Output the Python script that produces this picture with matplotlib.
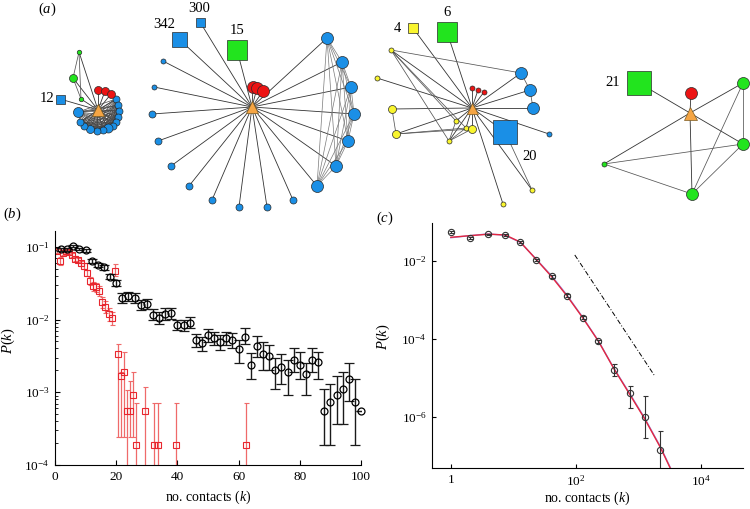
import numpy as np
import matplotlib.pyplot as plt
from itertools import combinations

plt.rcParams.update({
    'font.family': 'Liberation Serif',
    'mathtext.fontset': 'custom',
    'mathtext.rm': 'Liberation Serif',
    'mathtext.it': 'Liberation Serif:italic',
    'font.size': 9,
    'axes.linewidth': 0.8,
})

# ---------------- panel (b): degree distributions, linear k ----------------
k_black = np.arange(2, 101, 2)
p_black = [0.092, 0.092, 0.102, 0.093, 0.090, 0.064, 0.056, 0.052, 0.039, 0.032,
           0.0195, 0.021, 0.0197, 0.0158, 0.0165, 0.0117, 0.0105, 0.012, 0.0122, 0.0085,
           0.0083, 0.0091, 0.0052, 0.0047, 0.0061, 0.0055, 0.0049, 0.0055, 0.0052, 0.0039,
           0.0058, 0.0024, 0.0043, 0.0034, 0.0032, 0.0020, 0.0022, 0.0019, 0.0028, 0.0024,
           0.0018, 0.0028, 0.0026, 0.00055, 0.00074, 0.00091, 0.0011, 0.0015, 0.00074, 0.00055]
lo_black = [0.088, 0.088, 0.098, 0.089, 0.086, 0.060, 0.052, 0.048, 0.036, 0.029,
            0.017, 0.018, 0.017, 0.0135, 0.014, 0.0098, 0.0087, 0.0100, 0.0102, 0.0071,
            0.0069, 0.0076, 0.0042, 0.0037, 0.0049, 0.0044, 0.0038, 0.0044, 0.0041, 0.0025,
            0.0046, 0.0015, 0.0031, 0.0020, 0.0020, 0.0011, 0.0013, 0.00093, 0.0019, 0.0015,
            0.00093, 0.0019, 0.0015, 0.00019, 0.00019, 0.00037, 0.00037, 0.00076, 0.00019, 0.00055]
hi_black = [0.096, 0.096, 0.106, 0.097, 0.094, 0.068, 0.060, 0.056, 0.042, 0.035,
            0.023, 0.024, 0.023, 0.0185, 0.019, 0.0140, 0.0125, 0.0142, 0.0145, 0.0100,
            0.0098, 0.0107, 0.0063, 0.0058, 0.0075, 0.0068, 0.0062, 0.0068, 0.0065, 0.0052,
            0.0076, 0.0035, 0.0059, 0.0049, 0.0045, 0.0030, 0.0034, 0.0028, 0.0040, 0.0036,
            0.0025, 0.0040, 0.0036, 0.0011, 0.0013, 0.0017, 0.0019, 0.0025, 0.0015, 0.00055]

k_red = [0.5, 1.5, 2.5, 3.5, 4.5, 5.5, 6.5, 7.5, 8.5, 9.5, 10.5, 11.5, 12.5, 13.5, 14.5,
         15.5, 16.5, 17.5, 18.5, 19.5, 20.5, 21.5, 22.5, 23.5, 24.5, 25.5, 26.5, 29.5,
         32.5, 33.5, 39.5, 62.5]
p_red = [0.088, 0.064, 0.081, 0.088, 0.085, 0.077, 0.069, 0.066, 0.059, 0.055, 0.044, 0.034,
         0.029, 0.028, 0.025, 0.0174, 0.015, 0.012, 0.0105, 0.047, 0.0034, 0.0017, 0.0019,
         0.00056, 0.00056, 0.00093, 0.000186, 0.00056, 0.000186, 0.000186, 0.000186, 0.000186]
lo_red = [0.083, 0.056, 0.076, 0.083, 0.080, 0.072, 0.064, 0.061, 0.054, 0.050, 0.040, 0.030,
          0.025, 0.024, 0.021, 0.0145, 0.0122, 0.0096, 0.0083, 0.040, 0.00024, 0.00024, 0.00024,
          1e-6, 0.00024, 0.00024, 1e-6, 1e-6, 1e-6, 1e-6, 1e-6, 1e-6]
hi_red = [0.093, 0.072, 0.086, 0.093, 0.090, 0.082, 0.074, 0.071, 0.064, 0.060, 0.048, 0.038,
          0.033, 0.032, 0.029, 0.0203, 0.0178, 0.0144, 0.0127, 0.058, 0.0046, 0.0019, 0.0036,
          0.00107, 0.00145, 0.0019, 0.00072, 0.0012, 0.00072, 0.00072, 0.00072, 0.00072]

# ---------------- panel (c): log-binned distribution + fit ----------------
k_log = [1, 2, 3.9, 7.4, 13, 23, 41, 72, 128, 229, 407, 724, 1259, 2239]
p_log = [0.056, 0.038, 0.048, 0.046, 0.030, 0.0107, 0.0040, 0.00129, 0.00035,
         8.7e-5, 1.6e-5, 4.0e-6, 1.0e-6, 1.45e-7]
lo_log = [0.053, 0.036, 0.046, 0.044, 0.028, 0.0101, 0.0037, 0.00120, 0.00032,
          7.8e-5, 1.1e-5, 1.7e-6, 2.9e-7, 1e-9]
hi_log = [0.059, 0.040, 0.050, 0.048, 0.032, 0.0113, 0.0043, 0.00138, 0.00038,
          9.6e-5, 2.3e-5, 6.2e-6, 3.5e-6, 4.4e-7]

fit_k = [1, 2, 4, 7.4, 13, 23, 41, 72, 128, 229, 407, 724, 1259, 2239, 3300]
fit_red = [0.040, 0.044, 0.048, 0.046, 0.030, 0.011, 0.0039, 0.00126, 0.00035,
           8.7e-5, 1.7e-5, 3.8e-6, 8.9e-7, 1.66e-7, 4.5e-8]
fit_blue = [0.039, 0.044, 0.049, 0.045, 0.0295, 0.0112, 0.0041, 0.00132, 0.00036,
            8.9e-5, 1.74e-5, 4.0e-6, 9.3e-7, 1.74e-7, 4.7e-8]
guide_k = [96, 1820]
guide_p = [0.0141, 1.12e-5]

# ---------------- panel (a): four ego networks (layout in pixels) ----------------
# node: (x, y, diameter, colour, marker)
net1 = [(98, 110, 12, 'o', '^'),
        (116, 99, 7, 'b', 'o'), (118, 105, 7, 'b', 'o'), (119, 111, 7, 'b', 'o'),
        (118, 117, 7, 'b', 'o'), (116, 122, 7, 'b', 'o'), (113, 126, 7, 'b', 'o'),
        (108, 128, 9, 'b', 'o'), (103, 130, 7, 'b', 'o'), (97, 131, 7, 'b', 'o'),
        (90, 129, 8, 'b', 'o'), (84, 126, 7, 'b', 'o'), (80, 122, 7, 'b', 'o'),
        (78, 112, 10, 'b', 'o'),
        (98, 90, 8, 'r', 'o'), (105, 91, 8, 'r', 'o'), (111, 94, 8, 'r', 'o'),
        (79, 52, 4.5, 'g', 'o'), (73, 78, 8, 'g', 'o'), (81, 99, 4.5, 'g', 'o'),
        (60, 99, 9, 'b', 's')]
net1_extra = [(17, 18), (17, 19), (18, 19)]
net1_clique = list(range(1, 14))

net2 = [(252, 107, 12, 'o', '^'),
        (163, 61, 5, 'b', 'o'), (154, 87, 5, 'b', 'o'), (152, 114, 7, 'b', 'o'),
        (158, 141, 7, 'b', 'o'), (171, 166, 7, 'b', 'o'), (189, 186, 7, 'b', 'o'),
        (212, 200, 7, 'b', 'o'), (239, 207, 7, 'b', 'o'), (267, 207, 7, 'b', 'o'),
        (293, 200, 7, 'b', 'o'),
        (327, 38, 12, 'b', 'o'), (342, 62, 12, 'b', 'o'), (351, 87, 12, 'b', 'o'),
        (354, 114, 12, 'b', 'o'), (348, 141, 12, 'b', 'o'), (336, 166, 12, 'b', 'o'),
        (317, 186, 12, 'b', 'o'),
        (253, 87, 12, 'r', 'o'), (257, 88, 12, 'r', 'o'), (263, 91, 12, 'r', 'o'),
        (179, 39, 15, 'b', 's'), (200, 22, 9, 'b', 's'), (237, 50, 20, 'g', 's')]
net2_extra = []
net2_clique = list(range(11, 18))

net3 = [(472, 108, 11, 'o', '^'),
        (391, 50, 5, 'y', 'o'), (377, 78, 5, 'y', 'o'), (392, 109, 8, 'y', 'o'),
        (396, 134, 8, 'y', 'o'), (456, 121, 5, 'y', 'o'), (449, 141, 5, 'y', 'o'),
        (466, 128, 5, 'y', 'o'), (472, 129, 8, 'y', 'o'), (532, 190, 5, 'y', 'o'),
        (503, 204, 5, 'y', 'o'),
        (521, 73, 12, 'b', 'o'), (530, 90, 12, 'b', 'o'), (533, 108, 12, 'b', 'o'),
        (549, 134, 5, 'b', 'o'),
        (472, 88, 5, 'r', 'o'), (478, 90, 5, 'r', 'o'), (484, 92, 5, 'r', 'o'),
        (413, 28, 10, 'y', 's'), (447, 32, 20, 'g', 's'), (505, 132, 24, 'b', 's')]
net3_extra = [(1, 11), (1, 5), (1, 6), (1, 7), (3, 4), (4, 7), (4, 8),
              (6, 5), (6, 7), (6, 8), (11, 12), (12, 13), (20, 9)]
net3_clique = []

net4 = [(690, 113, 13, 'o', '^'),
        (691, 93, 12, 'r', 'o'),
        (743, 83, 12, 'g', 'o'), (743, 144, 12, 'g', 'o'), (692, 194, 12, 'g', 'o'),
        (604, 164, 5, 'g', 'o'),
        (639, 83, 24, 'g', 's')]
net4_extra = [(5, 3), (5, 4), (2, 3), (2, 4), (3, 4)]
net4_clique = []

square_labels = [('12', 54, 99, 'right'), ('342', 164, 24, 'center'), ('300', 199, 8, 'center'),
                 ('15', 237, 31, 'center'), ('4', 401, 28, 'right'), ('6', 447, 13, 'center'),
                 ('20', 530, 157, 'center'), ('21', 620, 83, 'right')]

colours = {'b': '#1a8fe6', 'g': '#22e41e', 'r': '#ec1414', 'y': '#f9f52e', 'o': '#f5a544'}

W, H = 750, 509
fig = plt.figure(figsize=(7.5, 5.09), dpi=100)


def draw_net(ax, nodes, extra, clique, clique_col='#7a7a7a'):
    hx, hy = nodes[0][:2]
    for n in nodes[1:]:
        ax.plot([hx, n[0]], [hy, n[1]], color='#333333', lw=0.6, zorder=1)
    for i, j in extra:
        ax.plot([nodes[i][0], nodes[j][0]], [nodes[i][1], nodes[j][1]],
                color='#555555', lw=0.55, zorder=1)
    for i, j in combinations(clique, 2):
        ax.plot([nodes[i][0], nodes[j][0]], [nodes[i][1], nodes[j][1]],
                color=clique_col, lw=0.5, zorder=1)
    for z, n in enumerate(nodes[1:]):
        ax.plot(n[0], n[1], marker=n[4], ms=n[2] * 0.72, mfc=colours[n[3]],
                mec='#2a2a2a', mew=0.5, zorder=3 + z * 0.01, ls='none')
    n = nodes[0]
    ax.plot(n[0], n[1], marker='^', ms=n[2] * 0.72, mfc=colours['o'],
            mec='#7a5a20', mew=0.5, zorder=5, ls='none')


top_h = 219
ax_a = fig.add_axes([0, 1 - top_h / H, 1, top_h / H])
ax_a.set_xlim(0, W)
ax_a.set_ylim(top_h, 0)
ax_a.axis('off')
draw_net(ax_a, net1, net1_extra, net1_clique, clique_col='#4a4a4a')
draw_net(ax_a, net2, net2_extra, net2_clique)
draw_net(ax_a, net3, net3_extra, net3_clique)
draw_net(ax_a, net4, net4_extra, net4_clique)
for txt, x, y, ha in square_labels:
    ax_a.text(x, y, txt, ha=ha, va='center', fontsize=10.5)

# ---------------- panel (b) ----------------
ax_b = fig.add_axes([55 / W, 1 - 465 / H, 306 / W, 234 / H])
p_black = np.array(p_black)
p_red = np.array(p_red)
ax_b.errorbar(k_red, p_red, yerr=[p_red - np.array(lo_red), np.array(hi_red) - p_red],
              fmt='s', ms=3.8, mfc='none', mec='#e8262e', mew=0.8,
              ecolor='#ef6a6a', elinewidth=0.9, capsize=1.8, capthick=0.8, zorder=2)
eb = ax_b.errorbar(k_black, p_black, yerr=[p_black - np.array(lo_black), np.array(hi_black) - p_black],
                   fmt='o', ms=5, mfc='none', mec='black', mew=0.9,
                   ecolor='#1a1a1a', elinewidth=1.0, capsize=3.6, capthick=1.0, zorder=3)
eb[0].set_clip_on(False)
ax_b.set_yscale('log')
ax_b.set_xlim(0, 100)
ax_b.set_ylim(1e-4, 0.165)
ax_b.set_xticks([0, 20, 40, 60, 80, 100])
ax_b.set_yticks([1e-4, 1e-3, 1e-2, 1e-1])
ax_b.set_yticklabels(['$10^{-4}$', '$10^{-3}$', '$10^{-2}$', '$10^{-1}$'])
ax_b.tick_params(which='both', direction='in', labelsize=9.5)
ax_b.tick_params(which='major', length=3.5, pad=4)
ax_b.tick_params(which='minor', length=2)
ax_b.spines['top'].set_visible(False)
ax_b.spines['right'].set_visible(False)
ax_b.set_xlabel('no. contacts ($k$)', fontsize=10)
ax_b.set_ylabel('$P$($k$)', fontsize=10.5)
ax_b.xaxis.set_label_coords(0.5, -0.1)
ax_b.yaxis.set_label_coords(-0.125, 0.53)

# ---------------- panel (c) ----------------
ax_c = fig.add_axes([432 / W, 1 - 468 / H, 311 / W, 245 / H])
p_log = np.array(p_log)
ax_c.plot(fit_k, fit_blue, color='#9a8ee0', lw=1.0, zorder=2)
ax_c.plot(fit_k, fit_red, color='#e3263f', lw=1.0, zorder=3)
ax_c.errorbar(k_log, p_log, yerr=[p_log - np.array(lo_log), np.array(hi_log) - p_log],
              fmt='o', ms=4.5, mfc='none', mec='#333333', mew=0.8,
              ecolor='#333333', elinewidth=0.8, capsize=1.8, capthick=0.7, zorder=4)
ax_c.plot(guide_k, guide_p, color='black', lw=0.7, ls=(0, (5, 2, 1, 2)), zorder=2)
ax_c.set_xscale('log')
ax_c.set_yscale('log')
ax_c.set_xlim(0.5, 4.7e4)
ax_c.set_ylim(4.9e-8, 0.093)
ax_c.set_xticks([1, 1e2, 1e4])
ax_c.set_xticklabels(['1', '$10^{2}$', '$10^{4}$'])
ax_c.set_yticks([1e-6, 1e-4, 1e-2])
ax_c.set_yticklabels(['$10^{-6}$', '$10^{-4}$', '$10^{-2}$'])
ax_c.minorticks_off()
ax_c.tick_params(which='major', direction='in', length=3, pad=4, labelsize=9.5)
ax_c.spines['top'].set_visible(False)
ax_c.spines['right'].set_visible(False)
ax_c.set_xlabel('no. contacts ($k$)', fontsize=10)
ax_c.set_ylabel('$P$($k$)', fontsize=10.5)
ax_c.xaxis.set_label_coords(0.5, -0.09)
ax_c.yaxis.set_label_coords(-0.13, 0.535)

# panel letters
for lab, x, y in [('($a$)', 47, 9), ('($b$)', 12, 214), ('($c$)', 385, 218)]:
    fig.text(x / W, 1 - y / H, lab, ha='center', va='center', fontsize=10.5)

fig.savefig('out.png', dpi=100)
